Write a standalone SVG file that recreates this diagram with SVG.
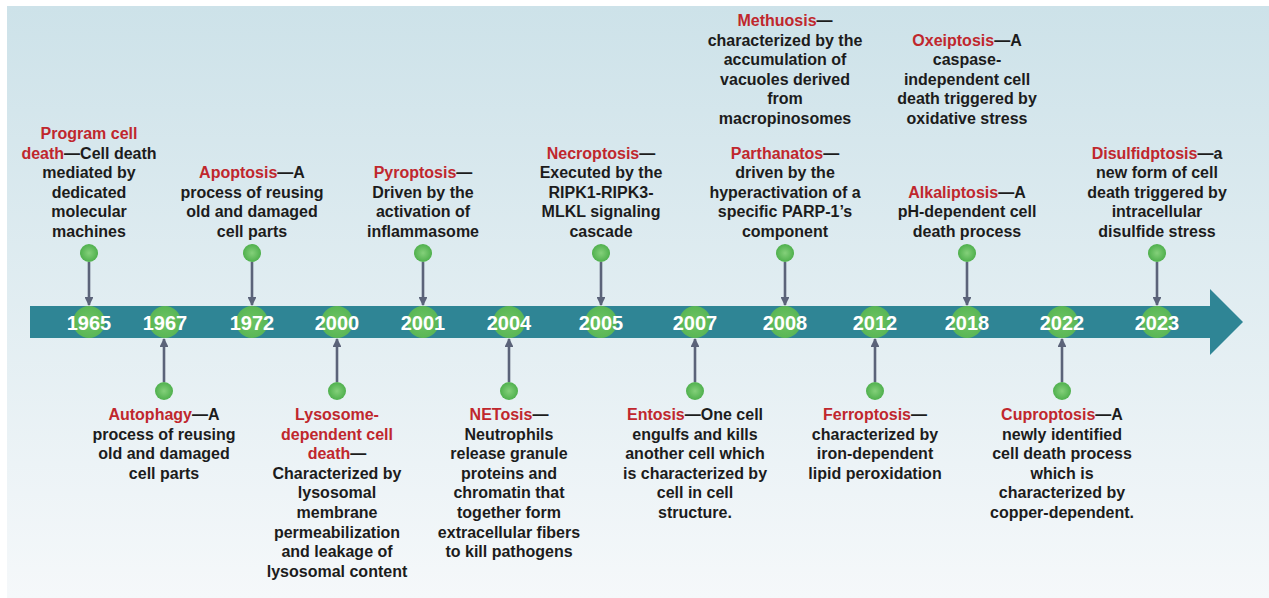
<svg xmlns="http://www.w3.org/2000/svg" width="1269" height="598" viewBox="0 0 1269 598">
<defs>
<linearGradient id="bg" x1="0" y1="0" x2="0" y2="1">
<stop offset="0" stop-color="#cde2e9"/>
<stop offset="1" stop-color="#f5f8fa"/>
</linearGradient>
<radialGradient id="dot" cx="0.5" cy="0.5" r="0.5">
<stop offset="0" stop-color="#84d07a"/>
<stop offset="1" stop-color="#4fb04d"/>
</radialGradient>
<radialGradient id="big" cx="0.5" cy="0.5" r="0.5">
<stop offset="0" stop-color="#6cc462"/>
<stop offset="1" stop-color="#5ab656"/>
</radialGradient>
<marker id="ah" viewBox="0 0 10 10" refX="9" refY="5" markerWidth="3.4" markerHeight="3.4" orient="auto" markerUnits="strokeWidth">
<path d="M0,0 L10,5 L0,10 Z" fill="#5b6379"/>
</marker>
</defs>
<style>
.t{font-family:"Liberation Sans",Arial,sans-serif;font-weight:bold;font-size:16px;fill:#1c1c1c;text-anchor:middle}
.r{fill:#c0272d}
.yr{font-family:"Liberation Sans",Arial,sans-serif;font-weight:bold;font-size:20px;fill:#ffffff;text-anchor:middle}
.dot{fill:url(#dot)}
.big{fill:url(#big)}
.cn line{stroke:#5b6379;stroke-width:2.6;marker-end:url(#ah)}
</style>
<rect x="0" y="0" width="1269" height="598" fill="#ffffff"/>
<rect x="7" y="6" width="1262" height="592" fill="url(#bg)"/>
<g id="timeline">
<path d="M30,306 H1210 V289 L1243,322 L1210,355 V338 H30 Z" fill="#2f8595"/>
</g>
<g id="connectors" class="cn">
<line x1="89" y1="262" x2="89" y2="305"/>
<line x1="252" y1="262" x2="252" y2="305"/>
<line x1="423" y1="262" x2="423" y2="305"/>
<line x1="601" y1="262" x2="601" y2="305"/>
<line x1="785" y1="262" x2="785" y2="305"/>
<line x1="967" y1="262" x2="967" y2="305"/>
<line x1="1157" y1="262" x2="1157" y2="305"/>
<line x1="164" y1="382" x2="164" y2="339"/>
<line x1="337" y1="382" x2="337" y2="339"/>
<line x1="509" y1="382" x2="509" y2="339"/>
<line x1="695" y1="382" x2="695" y2="339"/>
<line x1="875" y1="382" x2="875" y2="339"/>
<line x1="1062" y1="382" x2="1062" y2="339"/>
</g>
<g id="years">
<g id="y1965"><circle class="big" cx="89" cy="322" r="16"/><text class="yr" x="89" y="330">1965</text></g>
<g id="y1967"><circle class="big" cx="165" cy="322" r="16"/><text class="yr" x="165" y="330">1967</text></g>
<g id="y1972"><circle class="big" cx="252" cy="322" r="16"/><text class="yr" x="252" y="330">1972</text></g>
<g id="y2000"><circle class="big" cx="337" cy="322" r="16"/><text class="yr" x="337" y="330">2000</text></g>
<g id="y2001"><circle class="big" cx="423" cy="322" r="16"/><text class="yr" x="423" y="330">2001</text></g>
<g id="y2004"><circle class="big" cx="509" cy="322" r="16"/><text class="yr" x="509" y="330">2004</text></g>
<g id="y2005"><circle class="big" cx="601" cy="322" r="16"/><text class="yr" x="601" y="330">2005</text></g>
<g id="y2007"><circle class="big" cx="695" cy="322" r="16"/><text class="yr" x="695" y="330">2007</text></g>
<g id="y2008"><circle class="big" cx="785" cy="322" r="16"/><text class="yr" x="785" y="330">2008</text></g>
<g id="y2012"><circle class="big" cx="875" cy="322" r="16"/><text class="yr" x="875" y="330">2012</text></g>
<g id="y2018"><circle class="big" cx="967" cy="322" r="16"/><text class="yr" x="967" y="330">2018</text></g>
<g id="y2022"><circle class="big" cx="1062" cy="322" r="16"/><text class="yr" x="1062" y="330">2022</text></g>
<g id="y2023"><circle class="big" cx="1157" cy="322" r="16"/><text class="yr" x="1157" y="330">2023</text></g>
</g>
<g id="n-program">
<circle class="dot" cx="89" cy="253" r="9"/>
<text class="t"><tspan x="89" y="139" class="r">Program cell</tspan><tspan x="89" y="158.6"><tspan class="r">death</tspan>—Cell death</tspan><tspan x="89" y="178.2">mediated by</tspan><tspan x="89" y="197.8">dedicated</tspan><tspan x="89" y="217.4">molecular</tspan><tspan x="89" y="237">machines</tspan></text>
</g>
<g id="n-apoptosis">
<circle class="dot" cx="252" cy="253" r="9"/>
<text class="t"><tspan x="252" y="178.2"><tspan class="r">Apoptosis</tspan>—A</tspan><tspan x="252" y="197.8">process of reusing</tspan><tspan x="252" y="217.4">old and damaged</tspan><tspan x="252" y="237">cell parts</tspan></text>
</g>
<g id="n-pyroptosis">
<circle class="dot" cx="423" cy="253" r="9"/>
<text class="t"><tspan x="423" y="178.2"><tspan class="r">Pyroptosis</tspan>—</tspan><tspan x="423" y="197.8">Driven by the</tspan><tspan x="423" y="217.4">activation of</tspan><tspan x="423" y="237">inflammasome</tspan></text>
</g>
<g id="n-necroptosis">
<circle class="dot" cx="601" cy="253" r="9"/>
<text class="t"><tspan x="601" y="158.6"><tspan class="r">Necroptosis</tspan>—</tspan><tspan x="601" y="178.2">Executed by the</tspan><tspan x="601" y="197.8">RIPK1-RIPK3-</tspan><tspan x="601" y="217.4">MLKL signaling</tspan><tspan x="601" y="237">cascade</tspan></text>
</g>
<g id="n-methuosis">
<text class="t"><tspan x="785" y="26"><tspan class="r">Methuosis</tspan>—</tspan><tspan x="785" y="45.6">characterized by the</tspan><tspan x="785" y="65.2">accumulation of</tspan><tspan x="785" y="84.8">vacuoles derived</tspan><tspan x="785" y="104.4">from</tspan><tspan x="785" y="124">macropinosomes</tspan></text>
</g>
<g id="n-parthanatos">
<circle class="dot" cx="785" cy="253" r="9"/>
<text class="t"><tspan x="785" y="158.6"><tspan class="r">Parthanatos</tspan>—</tspan><tspan x="785" y="178.2">driven by the</tspan><tspan x="785" y="197.8">hyperactivation of a</tspan><tspan x="785" y="217.4">specific PARP-1’s</tspan><tspan x="785" y="237">component</tspan></text>
</g>
<g id="n-oxeiptosis">
<text class="t"><tspan x="967" y="45.6"><tspan class="r">Oxeiptosis</tspan>—A</tspan><tspan x="967" y="65.2">caspase-</tspan><tspan x="967" y="84.8">independent cell</tspan><tspan x="967" y="104.4">death triggered by</tspan><tspan x="967" y="124">oxidative stress</tspan></text>
</g>
<g id="n-alkaliptosis">
<circle class="dot" cx="967" cy="253" r="9"/>
<text class="t"><tspan x="967" y="197.8"><tspan class="r">Alkaliptosis</tspan>—A</tspan><tspan x="967" y="217.4">pH-dependent cell</tspan><tspan x="967" y="237">death process</tspan></text>
</g>
<g id="n-disulfidptosis">
<circle class="dot" cx="1157" cy="253" r="9"/>
<text class="t"><tspan x="1157" y="158.6"><tspan class="r">Disulfidptosis</tspan>—a</tspan><tspan x="1157" y="178.2">new form of cell</tspan><tspan x="1157" y="197.8">death triggered by</tspan><tspan x="1157" y="217.4">intracellular</tspan><tspan x="1157" y="237">disulfide stress</tspan></text>
</g>
<g id="n-autophagy">
<circle class="dot" cx="164" cy="391" r="9"/>
<text class="t"><tspan x="164" y="420"><tspan class="r">Autophagy</tspan>—A</tspan><tspan x="164" y="439.6">process of reusing</tspan><tspan x="164" y="459.2">old and damaged</tspan><tspan x="164" y="478.8">cell parts</tspan></text>
</g>
<g id="n-lysosome">
<circle class="dot" cx="337" cy="391" r="9"/>
<text class="t"><tspan x="337" y="420" class="r">Lysosome-</tspan><tspan x="337" y="439.6" class="r">dependent cell</tspan><tspan x="337" y="459.2"><tspan class="r">death</tspan>—</tspan><tspan x="337" y="478.8">Characterized by</tspan><tspan x="337" y="498.4">lysosomal</tspan><tspan x="337" y="518">membrane</tspan><tspan x="337" y="537.6">permeabilization</tspan><tspan x="337" y="557.2">and leakage of</tspan><tspan x="337" y="576.8">lysosomal content</tspan></text>
</g>
<g id="n-netosis">
<circle class="dot" cx="509" cy="391" r="9"/>
<text class="t"><tspan x="509" y="420"><tspan class="r">NETosis</tspan>—</tspan><tspan x="509" y="439.6">Neutrophils</tspan><tspan x="509" y="459.2">release granule</tspan><tspan x="509" y="478.8">proteins and</tspan><tspan x="509" y="498.4">chromatin that</tspan><tspan x="509" y="518">together form</tspan><tspan x="509" y="537.6">extracellular fibers</tspan><tspan x="509" y="557.2">to kill pathogens</tspan></text>
</g>
<g id="n-entosis">
<circle class="dot" cx="695" cy="391" r="9"/>
<text class="t"><tspan x="695" y="420"><tspan class="r">Entosis</tspan>—One cell</tspan><tspan x="695" y="439.6">engulfs and kills</tspan><tspan x="695" y="459.2">another cell which</tspan><tspan x="695" y="478.8">is characterized by</tspan><tspan x="695" y="498.4">cell in cell</tspan><tspan x="695" y="518">structure.</tspan></text>
</g>
<g id="n-ferroptosis">
<circle class="dot" cx="875" cy="391" r="9"/>
<text class="t"><tspan x="875" y="420"><tspan class="r">Ferroptosis</tspan>—</tspan><tspan x="875" y="439.6">characterized by</tspan><tspan x="875" y="459.2">iron-dependent</tspan><tspan x="875" y="478.8">lipid peroxidation</tspan></text>
</g>
<g id="n-cuproptosis">
<circle class="dot" cx="1062" cy="391" r="9"/>
<text class="t"><tspan x="1062" y="420"><tspan class="r">Cuproptosis</tspan>—A</tspan><tspan x="1062" y="439.6">newly identified</tspan><tspan x="1062" y="459.2">cell death process</tspan><tspan x="1062" y="478.8">which is</tspan><tspan x="1062" y="498.4">characterized by</tspan><tspan x="1062" y="518">copper-dependent.</tspan></text>
</g>
</svg>
